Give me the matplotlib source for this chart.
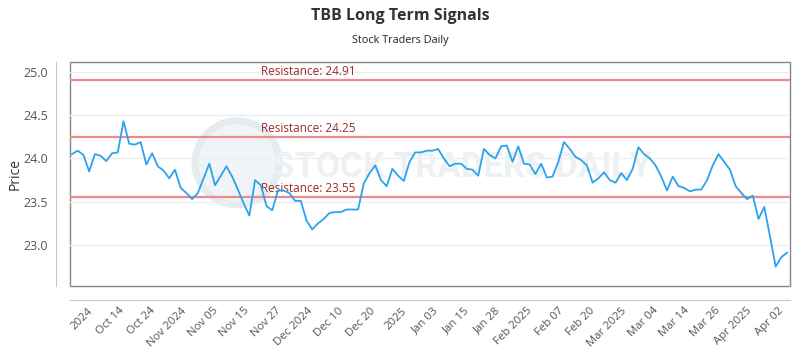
import matplotlib
matplotlib.use("Agg")
import matplotlib.pyplot as plt
from matplotlib.patches import Ellipse
import numpy as np

# ======================
# データ（チャートから読み取り）
# ======================
prices = [
    24.05, 24.09, 24.04, 23.85, 24.05, 24.03, 23.97, 24.06, 24.07, 24.43,
    24.17, 24.16, 24.19, 23.93, 24.06, 23.91, 23.86, 23.77, 23.87, 23.66,
    23.60, 23.53,
    23.60, 23.77, 23.94, 23.69, 23.80, 23.91, 23.79, 23.64, 23.48, 23.34,
    23.75, 23.69, 23.45, 23.40, 23.63, 23.63, 23.60, 23.51, 23.51, 23.28,
    23.18,
    23.25, 23.30, 23.37, 23.38, 23.38, 23.41, 23.41, 23.41, 23.71, 23.83,
    23.92, 23.75, 23.68, 23.88, 23.80, 23.74, 23.96, 24.07, 24.07, 24.09,
    24.09,
    24.11, 24.00, 23.91, 23.94, 23.94, 23.88, 23.87, 23.80, 24.11, 24.04,
    24.00, 24.14, 24.15, 23.96, 24.14, 23.94, 23.93, 23.82, 23.94, 23.78,
    23.79,
    23.96, 24.19, 24.11, 24.02, 23.98, 23.92, 23.72, 23.77, 23.84, 23.75,
    23.72, 23.83, 23.75, 23.88, 24.13, 24.05, 24.00, 23.92, 23.79, 23.63,
    23.79,
    23.68, 23.66, 23.62, 23.64, 23.64, 23.75, 23.92, 24.05, 23.96, 23.87,
    23.68, 23.60, 23.53, 23.57, 23.30, 23.44, 23.10, 22.75, 22.86, 22.91,
]

tick_labels = [
    "2024", "Oct 14", "Oct 24", "Nov 2024", "Nov 05", "Nov 15", "Nov 27",
    "Dec 2024", "Dec 10", "Dec 20", "2025", "Jan 03", "Jan 15", "Jan 28",
    "Feb 2025", "Feb 07", "Feb 20", "Mar 2025", "Mar 04", "Mar 14",
    "Mar 26", "Apr 2025", "Apr 02",
]

resistance = [24.91, 24.25, 23.55]

# ======================
# 描画
# ======================
plt.rcParams["font.family"] = ["Open Sans", "DejaVu Sans"]

fig = plt.figure(figsize=(8, 3.5), dpi=100)
ax = fig.add_axes([0.0875, 0.183, 0.90, 0.640])

# 枠線とオフセット軸線（先に設定：set_positionは目盛りをリセットする）
ax.patch.set_edgecolor("#888888")
ax.patch.set_linewidth(1.0)
for s in ["top", "right"]:
    ax.spines[s].set_visible(False)
for s in ["left", "bottom"]:
    ax.spines[s].set_position(("outward", 10))
    ax.spines[s].set_color("#c8c8c8")

x = np.arange(len(prices))

# watermark
ax.add_patch(Ellipse((0.232, 0.55), 84 / 720, 84 / 224, transform=ax.transAxes,
                     facecolor="#f1f4f7", edgecolor="#e6ebf0", lw=5, zorder=0.5))
ax.text(0.545, 0.53, "STOCK TRADERS DAILY", transform=ax.transAxes,
        ha="center", va="center", fontsize=25, color="#eef1f4",
        fontweight="bold", family=["Roboto", "DejaVu Sans"], zorder=0.6)

for r in resistance:
    ax.axhline(r, color="#ee8a8a", lw=1.6, zorder=2)
    ax.text(33.0, r + 0.025, f"Resistance: {r:.2f}", color="#9b2b2b",
            fontsize=8.5, va="bottom", ha="left", zorder=3)

ax.plot(x, prices, color="#2ba3ec", lw=1.3, zorder=4)

ax.set_xlim(-0.35, len(prices) - 0.5)
ax.set_ylim(22.526, 25.116)
ax.set_yticks([23.0, 23.5, 24.0, 24.5, 25.0])
ax.yaxis.grid(True, color="#eeeeee", lw=1)
ax.set_axisbelow(True)

# 目盛りラベルは等間隔に並ぶ
tick_pos = np.linspace(2.6, 123.4, len(tick_labels))

ax.tick_params(axis="both", length=0, colors="#555555")
ax.tick_params(axis="x", pad=4, labelsize=8.2)
ax.tick_params(axis="y", pad=6, labelsize=9)
ax.set_xticks(tick_pos)
ax.set_xticklabels(tick_labels, rotation=45, ha="right", va="top",
                   rotation_mode="anchor")

ax.set_ylabel("Price", fontsize=10, color="#333333")
ax.yaxis.set_label_coords(-0.066, 0.5)

fig.text(0.5, 0.955, "TBB Long Term Signals", ha="center", va="center",
         fontsize=11.5, fontweight="bold", color="#333333")
fig.text(0.5, 0.885, "Stock Traders Daily", ha="center", va="center",
         fontsize=7.8, color="#222222")

fig.savefig("out.png", dpi=100)
